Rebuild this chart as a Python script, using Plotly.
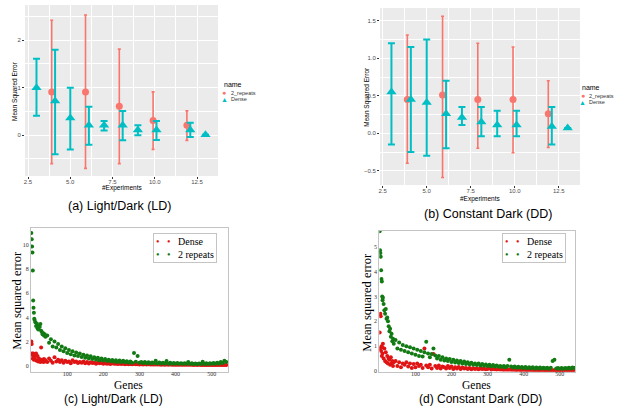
import plotly.graph_objects as go

# ---------------- (a) Light/Dark : error-bar chart ----------------
ld_x_rep = [3.9, 5.9, 7.9, 9.9, 11.9]
ld_y_rep = [0.91, 0.91, 0.61, 0.31, 0.21]
ld_lo_rep = [-0.60, -0.70, -0.60, -0.30, -0.11]
ld_hi_rep = [2.42, 2.53, 1.81, 0.91, 0.51]

ld_x_dense = [3, 4.1, 5, 6.1, 7, 8.1, 9, 10.1, 12.1, 13]
ld_y_dense = [1.0, 0.72, 0.36, 0.21, 0.21, 0.21, 0.11, 0.11, 0.11, 0.01]
ld_lo_dense = [0.41, -0.40, -0.30, -0.20, 0.10, -0.11, 0.0, -0.10, -0.04, 0.01]
ld_hi_dense = [1.61, 1.80, 1.00, 0.60, 0.30, 0.51, 0.21, 0.30, 0.26, 0.01]

# ---------------- (b) Constant Dark : error-bar chart ----------------
dd_x_rep = [3.9, 5.9, 7.9, 9.9, 11.9]
dd_y_rep = [0.45, 0.51, 0.45, 0.45, 0.26]
dd_lo_rep = [-0.40, -0.59, -0.20, -0.26, -0.19]
dd_hi_rep = [1.31, 1.56, 1.20, 1.15, 0.70]

dd_x_dense = [3, 4.1, 5, 6.1, 7, 8.1, 9, 10.1, 12.1, 13]
dd_y_dense = [0.55, 0.45, 0.41, 0.26, 0.21, 0.15, 0.11, 0.11, 0.09, 0.07]
dd_lo_dense = [-0.15, -0.25, -0.30, -0.20, 0.11, -0.04, -0.04, -0.04, -0.15, 0.07]
dd_hi_dense = [1.20, 1.15, 1.25, 0.70, 0.35, 0.35, 0.30, 0.30, 0.35, 0.07]

# ---------------- (c)/(d) per-gene scatter ----------------
genes = list(range(1, 11)) + list(range(12, 41, 2)) + list(range(45, 541, 5))

ld_gene_dense = [
    2.0, 1.8, 1.0, 0.9, 0.6, 1.0, 0.85, 0.5, 0.95, 0.7,
    0.5, 1.0, 0.4, 0.8, 0.35, 0.6, 0.45, 0.3, 1.5, 0.5, 0.4, 0.3, 0.55, 0.35, 0.45,
    0.3, 0.6, 0.4, 0.25, 0.7, 0.35, 0.5, 0.3, 0.45, 0.25,
    0.4, 0.3, 0.35, 0.2, 0.45, 0.3, 0.35, 0.22, 0.3, 0.25,
    0.35, 0.2, 0.3, 0.18, 0.28, 0.22, 0.25, 0.17, 0.25, 0.2,
    0.22, 0.15, 0.2, 0.17, 0.18, 0.14, 0.2, 0.15, 0.17, 0.13,
    0.16, 0.13, 0.15, 0.12, 0.14, 0.12, 0.13, 0.11, 0.13, 0.11,
    0.12, 0.1, 0.12, 0.1, 0.11, 0.1, 0.11, 0.09, 0.1, 0.09,
    0.1, 0.09, 0.1, 0.08, 0.09, 0.08, 0.09, 0.08, 0.09, 0.08,
    0.08, 0.07, 0.08, 0.07, 0.08, 0.07, 0.08, 0.07, 0.07, 0.07,
    0.07, 0.06, 0.07, 0.06, 0.07, 0.06, 0.06, 0.06, 0.06, 0.06,
    0.06, 0.05, 0.06, 0.05, 0.06, 0.05, 0.05, 0.05, 0.05, 0.05,
]
ld_gene_rep = [
    11.0, 10.5, 9.9, 9.4, 7.9, 5.4, 4.8, 4.4, 3.9, 3.8,
    3.6, 3.3, 3.5, 3.1, 3.0, 3.3, 3.2, 3.45, 2.9, 2.8, 2.6, 2.7, 2.5, 2.6, 2.4,
    2.5, 1.9, 2.2, 1.6, 2.0, 1.5, 1.8, 1.3, 1.6, 1.2,
    1.45, 1.05, 1.3, 0.95, 1.2, 0.85, 1.1, 0.8, 1.0, 0.72,
    0.9, 0.65, 0.85, 0.6, 0.78, 0.55, 0.7, 0.5, 0.65, 0.45,
    0.6, 0.42, 0.55, 0.4, 0.5, 0.36, 0.48, 0.33, 0.45, 0.3,
    0.42, 0.3, 0.4, 0.28, 0.36, 0.26, 0.35, 0.25, 1.05, 0.32,
    0.8, 0.24, 0.3, 0.22, 0.3, 0.21, 0.28, 0.2, 0.27, 0.2,
    0.4, 0.19, 0.26, 0.18, 0.25, 0.18, 0.38, 0.17, 0.24, 0.17,
    0.22, 0.16, 0.22, 0.15, 0.2, 0.15, 0.2, 0.15, 0.3, 0.14,
    0.2, 0.14, 0.19, 0.14, 0.19, 0.13, 0.32, 0.13, 0.2, 0.14,
    0.2, 0.15, 0.22, 0.16, 0.25, 0.18, 0.3, 0.22, 0.4, 0.3,
]
dd_gene_dense = [
    1.55, 0.9, 2.3, 2.2, 0.8, 1.0, 0.6, 0.95, 0.7, 1.1,
    0.5, 0.9, 0.4, 0.75, 0.35, 0.6, 0.3, 0.5, 0.45, 0.25, 0.55, 0.3, 0.4, 0.2, 0.35,
    0.4, 0.2, 0.35, 0.15, 0.3, 0.25, 0.35, 0.18, 0.3, 0.12,
    0.28, 0.15, 0.3, 0.2, 0.25, 0.12, 0.9, 0.22, 0.15, 0.25,
    0.1, 0.68, 0.2, 0.12, 0.22, 0.1, 0.18, 0.15, 0.1, 0.2,
    0.12, 0.18, 0.08, 0.15, 0.1, 0.16, 0.08, 0.14, 0.1, 0.12,
    0.08, 0.12, 0.07, 0.11, 0.08, 0.1, 0.07, 0.1, 0.08, 0.09,
    0.07, 0.08, 0.12, 0.06, 0.08, 0.07, 0.06, 0.07, 0.06, 0.06,
    0.05, 0.06, 0.05, 0.06, 0.05, 0.05, 0.05, 0.04, 0.05, 0.04,
    0.04, 0.05, 0.04, 0.04, 0.04, 0.04, 0.04, 0.03, 0.04, 0.03,
    0.03, 0.04, 0.03, 0.03, 0.03, 0.03, 0.03, 0.03, 0.03, 0.03,
    0.03, 0.03, 0.03, 0.03, 0.03, 0.03, 0.03, 0.03, 0.03, 0.03,
]
dd_gene_rep = [
    5.63, 4.86, 4.75, 4.6, 4.06, 3.7, 3.6, 3.0, 2.85, 2.95,
    2.7, 2.45, 2.3, 2.5, 2.1, 2.15, 2.0, 1.8, 1.6, 1.7, 1.38, 1.5, 1.2, 1.3, 1.1,
    1.25, 0.9, 1.15, 0.85, 1.05, 0.8, 1.0, 0.75, 0.95, 0.7,
    0.9, 0.65, 0.85, 0.6, 0.8, 0.58, 0.75, 1.18, 0.7, 0.55,
    0.68, 0.9, 0.62, 0.5, 0.6, 0.45, 0.55, 0.42, 0.5, 0.4,
    0.48, 0.36, 0.45, 0.34, 0.42, 0.32, 0.4, 0.3, 0.38, 0.28,
    0.35, 0.27, 0.33, 0.25, 0.3, 0.24, 0.3, 0.22, 0.28, 0.21,
    0.26, 0.2, 0.25, 0.19, 0.24, 0.18, 0.22, 0.17, 0.2, 0.16,
    0.2, 0.15, 0.2, 0.45, 0.18, 0.14, 0.18, 0.13, 0.17, 0.13,
    0.16, 0.12, 0.16, 0.11, 0.15, 0.11, 0.15, 0.1, 0.14, 0.1,
    0.14, 0.1, 0.13, 0.1, 0.13, 0.09, 0.13, 0.4, 0.45, 0.1,
    0.12, 0.09, 0.12, 0.09, 0.12, 0.1, 0.13, 0.1, 0.14, 0.12,
]

series_names_gg = ["2_repeats", "Dense"]
series_names_mpl = ["Dense", "2 repeats"]
captions = ["(a) Light/Dark (LD)", "(b) Constant Dark (DD)",
            "(c) Light/Dark (LD)", "(d) Constant Dark (DD)"]

RED_GG = "#F8766D"
TEAL_GG = "#00BFC4"
RED_MPL = "#e01414"
GREEN_MPL = "#127a12"

W, H = 629, 411


def px(x):
    return x / W


def py(y):
    return 1 - y / H


fig = go.Figure()


def err_trace(xs, ys, lo, hi, color, symbol, size, capw, thick, xa, ya, name):
    return go.Scatter(
        x=xs, y=ys, mode="markers", name=name, showlegend=False,
        marker=dict(color=color, symbol=symbol, size=size),
        error_y=dict(type="data", symmetric=False,
                     array=[h - y for h, y in zip(hi, ys)],
                     arrayminus=[y - l for y, l in zip(ys, lo)],
                     color=color, thickness=thick, width=capw),
        xaxis=xa, yaxis=ya)


fig.add_trace(err_trace(ld_x_rep, ld_y_rep, ld_lo_rep, ld_hi_rep, RED_GG, "circle", 7, 1.5, 1.6, "x", "y", series_names_gg[0]))
fig.add_trace(err_trace(ld_x_dense, ld_y_dense, ld_lo_dense, ld_hi_dense, TEAL_GG, "triangle-up", 9, 3.5, 2, "x", "y", series_names_gg[1]))
fig.add_trace(err_trace(dd_x_rep, dd_y_rep, dd_lo_rep, dd_hi_rep, RED_GG, "circle", 7, 1.5, 1.6, "x2", "y2", series_names_gg[0]))
fig.add_trace(err_trace(dd_x_dense, dd_y_dense, dd_lo_dense, dd_hi_dense, TEAL_GG, "triangle-up", 9, 3.5, 2, "x2", "y2", series_names_gg[1]))

for xa, ya, yd, yr in [("x3", "y3", ld_gene_dense, ld_gene_rep), ("x4", "y4", dd_gene_dense, dd_gene_rep)]:
    fig.add_trace(go.Scatter(x=genes, y=yd, mode="markers", name=series_names_mpl[0], showlegend=False,
                             marker=dict(color=RED_MPL, size=4, line=dict(width=0)), xaxis=xa, yaxis=ya))
    fig.add_trace(go.Scatter(x=genes, y=yr, mode="markers", name=series_names_mpl[1], showlegend=False,
                             marker=dict(color=GREEN_MPL, size=4, line=dict(width=0)), xaxis=xa, yaxis=ya))

GG_TICKFONT = dict(family="Liberation Sans", size=6, color="#4D4D4D")
MPL_TICKFONT = dict(family="Liberation Serif", size=6, color="#333333")

gg_x = dict(tickmode="linear", tick0=2.5, dtick=2.5, tickformat=".1f", gridcolor="white", gridwidth=1,
            zeroline=False, showline=False, ticks="outside", ticklen=2, tickcolor="#333333", automargin=False,
            ticklabelstandoff=-2,
            tickfont=GG_TICKFONT, minor=dict(tick0=1.25, dtick=1.25, showgrid=True, gridcolor="white", gridwidth=0.5))
mpl_ax = dict(showgrid=False, zeroline=False, showline=True, mirror=True, linecolor="#c4c4c4", linewidth=1,
              ticks="", tickfont=MPL_TICKFONT, automargin=False)

layout = dict(
    width=W, height=H, margin=dict(l=0, r=0, t=0, b=0, autoexpand=False),
    paper_bgcolor="white", plot_bgcolor="white", showlegend=False,
    xaxis=dict(domain=[px(25), px(218)], range=[2.32, 13.74], anchor="y", **gg_x),
    yaxis=dict(domain=[py(176), py(5)], range=[-0.86, 2.74], anchor="x", tickmode="linear", tick0=0, dtick=1,
               gridcolor="white", gridwidth=1, zeroline=False, showline=False, ticks="outside", ticklen=2,
               tickcolor="#333333", tickfont=GG_TICKFONT, automargin=False,
               minor=dict(tick0=0.5, dtick=1, showgrid=True, gridcolor="white", gridwidth=0.5)),
    xaxis2=dict(domain=[px(380), px(580)], range=[2.35, 13.7], anchor="y2", **gg_x),
    yaxis2=dict(domain=[py(185), py(8)], range=[-0.69, 1.67], anchor="x2", tickmode="linear", tick0=0, dtick=0.5,
                tickformat=".1f", gridcolor="white", gridwidth=1, zeroline=False, showline=False, ticks="outside",
                ticklen=2, tickcolor="#333333", tickfont=GG_TICKFONT, automargin=False,
                minor=dict(tick0=0.25, dtick=0.5, showgrid=True, gridcolor="white", gridwidth=0.5)),
    xaxis3=dict(domain=[px(31), px(228)], range=[0, 545], anchor="y3", tickvals=[100, 200, 300, 400, 500],
                ticklabelstandoff=-4, **mpl_ax),
    yaxis3=dict(domain=[py(371.7), py(228.3)], range=[-0.5, 11.4], anchor="x3", tickvals=[0, 2, 4, 6, 8, 10], **mpl_ax),
    xaxis4=dict(domain=[px(379.3), px(575)], range=[0, 542], anchor="y4", tickvals=[100, 200, 300, 400, 500],
                ticklabelstandoff=-4, **mpl_ax),
    yaxis4=dict(domain=[py(371.7), py(230.7)], range=[-0.03, 5.65], anchor="x4", tickvals=[0, 1, 2, 3, 4, 5], **mpl_ax),
)
fig.update_layout(**layout)

# grey ggplot panels
for xr, yr in [("x domain", "y domain"), ("x2 domain", "y2 domain")]:
    fig.add_shape(type="rect", xref=xr, yref=yr, x0=0, x1=1, y0=0, y1=1,
                  fillcolor="#EBEBEB", line_width=0, layer="below")

ann = []


def A(text, x, y, size, family="Liberation Sans", color="#000000", angle=0, xanchor="center", yanchor="middle", **kw):
    d = dict(text=text, x=px(x), y=py(y), xref="paper", yref="paper", showarrow=False,
             font=dict(family=family, size=size, color=color), textangle=angle,
             xanchor=xanchor, yanchor=yanchor)
    d.update(kw)
    ann.append(d)


# ggplot axis titles
A("Mean Squared Error", 15, 91, 6.5, angle=-90)
A("#Experiments", 122, 188.5, 6.5)
A("Mean Squared Error", 366.7, 97, 6.5, angle=-90)
A("#Experiments", 480, 198.5, 6.5)

# ggplot legends
for lx, ly in [(222, 85), (580, 88)]:
    A("name", lx, ly, 7, xanchor="left")
    A("●", lx + 2.5, ly + 7.5, 7, color=RED_GG)
    A(series_names_gg[0], lx + 6.5, ly + 7.5, 5.5, color="#333333", xanchor="left")
    A("▲", lx + 2.5, ly + 14.5, 7, color=TEAL_GG)
    A(series_names_gg[1], lx + 6.5, ly + 14.5, 5.5, color="#333333", xanchor="left")

# matplotlib axis titles
A("Mean squared error", 16.7, 300, 12.5, family="Liberation Serif", angle=-90)
A("Genes", 128, 384.5, 11.5, family="Liberation Serif")
A("Mean squared error", 366.7, 302, 12.5, family="Liberation Serif", angle=-90)
A("Genes", 476.7, 384.5, 11.5, family="Liberation Serif")

# matplotlib legends
for lx, ly in [(153.3, 232.7), (501.7, 233.3)]:
    txt = (f"<span style='color:{RED_MPL}'>•   •</span>   {series_names_mpl[0]}<br>"
           f"<span style='color:{GREEN_MPL}'>•   •</span>   {series_names_mpl[1]}")
    A(txt, lx, ly, 10, family="Liberation Serif", xanchor="left", yanchor="top", align="left",
      bordercolor="#c4c4c4", borderwidth=1, borderpad=2, bgcolor="white")

# captions
A(captions[0], 120, 206, 12.5)
A(captions[1], 488, 214, 12.5)
A(captions[2], 113, 399, 12)
A(captions[3], 480, 399, 12)

fig.update_layout(annotations=ann)
fig.write_html("out.html", config={"displayModeBar": False},
               post_script="document.body.style.margin='0';")
